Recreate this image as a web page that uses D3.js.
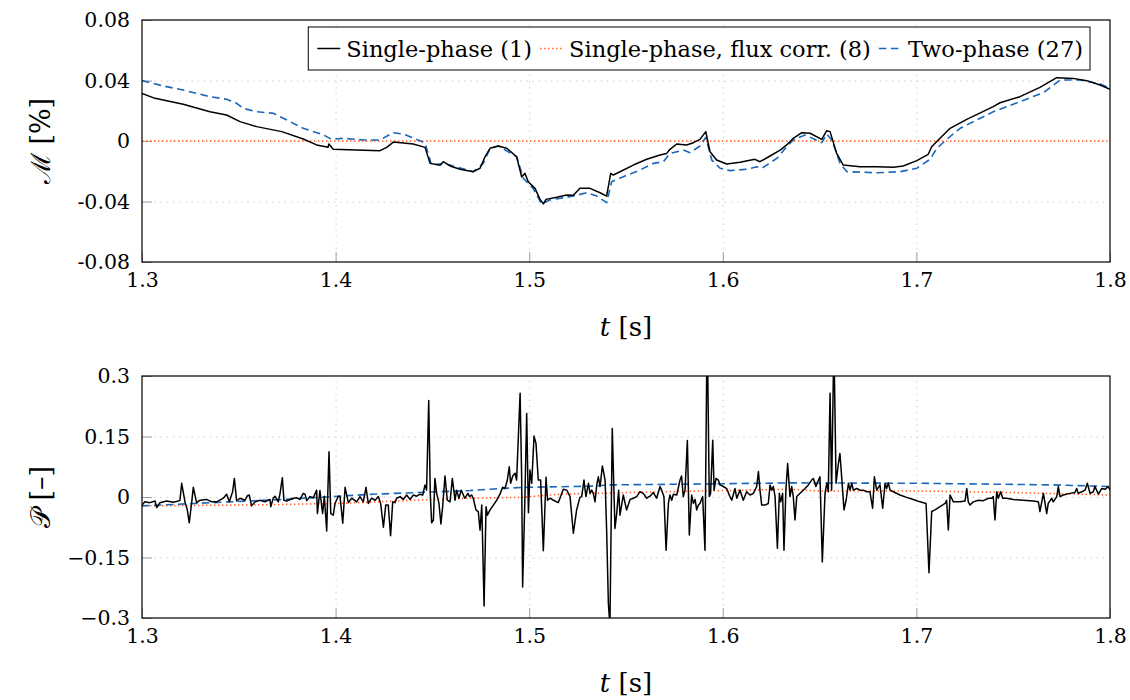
<!DOCTYPE html>
<html>
<head>
<meta charset="utf-8">
<script src="https://cdn.jsdelivr.net/npm/d3@7"></script>
<style>
  body { margin: 0; background: #fff; }
  svg text { font-family: "DejaVu Serif", "Liberation Serif", serif; fill: #000; }
</style>
</head>
<body>
<div id="chart"></div>
<script>
/* ── Data ──────────────────────────────────────────────────────────── */
const xTicks          = [1.3, 1.4, 1.5, 1.6, 1.7, 1.8];
const xTickLabels     = ['1.3', '1.4', '1.5', '1.6', '1.7', '1.8'];
const massTicks       = [-0.08, -0.04, 0, 0.04, 0.08];
const massTickLabels  = ['-0.08', '-0.04', '0', '0.04', '0.08'];
const powerTicks      = [-0.3, -0.15, 0, 0.15, 0.3];
const powerTickLabels = ['\u22120.3', '\u22120.15', '0', '0.15', '0.3'];
const seriesNames     = ['Single-phase (1)', 'Single-phase, flux corr. (8)', 'Two-phase (27)'];

// mass error [%] vs t [s]
const massSingle = [
  [1.3000,0.0315],[1.3067,0.0282],[1.3213,0.0243],[1.3351,0.0194],[1.3437,0.0172],[1.3506,0.0128],
  [1.3592,0.0095],[1.3722,0.0062],[1.3833,0.0013],[1.3902,-0.0026],[1.3961,-0.0042],[1.3965,-0.0020],
  [1.3988,-0.0055],[1.4109,-0.0060],[1.4229,-0.0064],[1.4264,-0.0042],[1.4298,-0.0007],[1.4401,-0.0020],
  [1.4462,-0.0042],[1.4488,-0.0148],[1.4540,-0.0160],[1.4556,-0.0137],[1.4591,-0.0165],[1.4643,-0.0187],
  [1.4711,-0.0203],[1.4746,-0.0180],[1.4772,-0.0104],[1.4798,-0.0048],[1.4840,-0.0033],[1.4884,-0.0048],
  [1.4935,-0.0104],[1.4961,-0.0236],[1.4978,-0.0214],[1.4995,-0.0269],[1.5030,-0.0313],[1.5056,-0.0386],
  [1.5073,-0.0416],[1.5087,-0.0386],[1.5142,-0.0372],[1.5194,-0.0357],[1.5228,-0.0359],[1.5262,-0.0313],
  [1.5314,-0.0313],[1.5366,-0.0342],[1.5400,-0.0364],[1.5421,-0.0214],[1.5434,-0.0225],[1.5469,-0.0203],
  [1.5538,-0.0159],[1.5607,-0.0121],[1.5676,-0.0093],[1.5710,-0.0082],[1.5727,-0.0055],[1.5762,-0.0020],
  [1.5813,-0.0026],[1.5848,-0.0011],[1.5882,0.0011],[1.5912,0.0062],[1.5934,-0.0071],[1.5968,-0.0126],
  [1.6020,-0.0152],[1.6089,-0.0141],[1.6166,-0.0121],[1.6192,-0.0137],[1.6244,-0.0099],[1.6296,-0.0060],
  [1.6330,-0.0026],[1.6364,0.0018],[1.6408,0.0055],[1.6451,0.0051],[1.6511,0.0011],[1.6537,0.0068],
  [1.6554,0.0062],[1.6588,-0.0082],[1.6622,-0.0159],[1.6709,-0.0170],[1.6795,-0.0170],[1.6881,-0.0174],
  [1.6932,-0.0165],[1.7002,-0.0130],[1.7061,-0.0088],[1.7079,-0.0038],[1.7122,0.0018],[1.7174,0.0084],
  [1.7260,0.0143],[1.7397,0.0227],[1.7432,0.0253],[1.7535,0.0293],[1.7638,0.0355],[1.7725,0.0419],
  [1.7810,0.0414],[1.7880,0.0399],[1.7949,0.0370],[1.8000,0.0342]
];
const massFluxCorr = [[1.3, 0], [1.8, 0]];
const massTwoPhase = [
  [1.3000,0.0399],[1.3110,0.0364],[1.3213,0.0337],[1.3351,0.0293],[1.3437,0.0276],[1.3489,0.0249],
  [1.3523,0.0216],[1.3592,0.0194],[1.3678,0.0183],[1.3730,0.0150],[1.3833,0.0084],[1.3937,0.0040],
  [1.3980,0.0011],[1.4040,0.0018],[1.4143,0.0007],[1.4229,0.0007],[1.4298,0.0055],[1.4349,0.0046],
  [1.4436,0.0002],[1.4462,-0.0015],[1.4496,-0.0159],[1.4556,-0.0148],[1.4591,-0.0159],[1.4711,-0.0203],
  [1.4763,-0.0148],[1.4798,-0.0048],[1.4840,-0.0033],[1.4935,-0.0104],[1.4970,-0.0247],[1.5020,-0.0313],
  [1.5064,-0.0416],[1.5107,-0.0390],[1.5194,-0.0372],[1.5228,-0.0364],[1.5297,-0.0342],[1.5349,-0.0364],
  [1.5400,-0.0408],[1.5426,-0.0269],[1.5486,-0.0236],[1.5572,-0.0192],[1.5641,-0.0148],[1.5693,-0.0137],
  [1.5727,-0.0082],[1.5796,-0.0060],[1.5831,-0.0077],[1.5882,-0.0033],[1.5912,0.0024],[1.5943,-0.0126],
  [1.5986,-0.0180],[1.6038,-0.0196],[1.6124,-0.0187],[1.6176,-0.0170],[1.6202,-0.0180],[1.6279,-0.0115],
  [1.6330,-0.0038],[1.6364,0.0007],[1.6425,0.0040],[1.6511,-0.0011],[1.6537,0.0046],[1.6563,0.0007],
  [1.6606,-0.0148],[1.6641,-0.0203],[1.6796,-0.0210],[1.6916,-0.0203],[1.7002,-0.0180],[1.7071,-0.0121],
  [1.7106,-0.0048],[1.7157,0.0011],[1.7226,0.0084],[1.7398,0.0194],[1.7535,0.0260],[1.7656,0.0320],
  [1.7742,0.0403],[1.7846,0.0403],[1.7949,0.0377],[1.8000,0.0348]
];

// power indicator [-] vs t [s]
const powerSingle = [
  [1.3000,-0.020],[1.3015,-0.012],[1.3041,-0.014],[1.3067,-0.010],[1.3076,-0.026],[1.3093,-0.014],
  [1.3127,-0.010],[1.3162,-0.013],[1.3188,-0.010],[1.3196,-0.008],[1.3205,0.034],[1.3222,-0.012],
  [1.3234,-0.032],[1.3244,-0.064],[1.3257,-0.012],[1.3265,0.024],[1.3282,-0.014],[1.3300,-0.008],
  [1.3334,-0.006],[1.3360,-0.012],[1.3386,-0.012],[1.3420,-0.003],[1.3437,0.007],[1.3451,-0.012],
  [1.3468,0.013],[1.3477,0.046],[1.3489,-0.010],[1.3506,-0.003],[1.3532,-0.008],[1.3544,0.003],
  [1.3554,0.005],[1.3566,-0.022],[1.3584,-0.012],[1.3610,-0.008],[1.3635,-0.012],[1.3661,-0.006],
  [1.3665,-0.024],[1.3678,-0.003],[1.3687,0.002],[1.3704,-0.012],[1.3713,0.009],[1.3725,0.048],
  [1.3733,-0.008],[1.3747,-0.010],[1.3782,-0.003],[1.3799,-0.002],[1.3816,-0.006],[1.3833,0.009],
  [1.3842,0.007],[1.3851,-0.009],[1.3868,0.001],[1.3885,-0.002],[1.3902,0.017],[1.3906,-0.041],
  [1.3919,0.016],[1.3928,-0.022],[1.3933,-0.041],[1.3942,0.002],[1.3954,-0.084],[1.3966,0.112],
  [1.3975,-0.041],[1.3988,-0.045],[1.3997,-0.016],[1.4014,0.002],[1.4023,0.001],[1.4037,-0.065],
  [1.4049,0.024],[1.4066,-0.014],[1.4083,-0.003],[1.4109,-0.012],[1.4126,0.001],[1.4143,-0.012],
  [1.4157,0.024],[1.4169,-0.016],[1.4186,-0.003],[1.4204,-0.008],[1.4221,0.001],[1.4233,-0.017],
  [1.4247,-0.075],[1.4259,-0.020],[1.4272,-0.020],[1.4284,-0.096],[1.4295,-0.012],[1.4307,-0.014],
  [1.4315,-0.003],[1.4333,0.001],[1.4350,-0.006],[1.4367,0.005],[1.4384,-0.006],[1.4402,0.005],
  [1.4419,0.002],[1.4436,0.007],[1.4450,0.005],[1.4462,0.030],[1.4470,0.017],[1.4481,0.239],
  [1.4489,0.009],[1.4496,-0.064],[1.4505,-0.057],[1.4513,0.046],[1.4522,0.009],[1.4534,-0.016],
  [1.4544,-0.067],[1.4553,-0.024],[1.4565,0.052],[1.4577,-0.008],[1.4591,-0.012],[1.4603,0.046],
  [1.4617,-0.008],[1.4625,0.017],[1.4637,-0.003],[1.4649,0.017],[1.4667,-0.003],[1.4684,0.009],
  [1.4692,0.001],[1.4703,0.005],[1.4711,-0.003],[1.4725,-0.032],[1.4737,-0.036],[1.4746,-0.082],
  [1.4755,-0.020],[1.4767,-0.270],[1.4777,-0.024],[1.4784,-0.045],[1.4798,-0.032],[1.4815,-0.020],
  [1.4832,-0.008],[1.4849,0.007],[1.4863,0.024],[1.4875,0.021],[1.4887,0.042],[1.4897,0.075],
  [1.4904,0.034],[1.4915,0.052],[1.4927,0.059],[1.4935,0.042],[1.4953,0.257],[1.4961,0.050],
  [1.4966,-0.223],[1.4978,0.001],[1.4987,0.207],[1.4996,-0.039],[1.5004,0.067],[1.5013,0.034],
  [1.5025,0.151],[1.5035,0.133],[1.5047,0.042],[1.5059,0.042],[1.5073,-0.133],[1.5087,0.049],
  [1.5095,-0.008],[1.5107,-0.003],[1.5125,-0.008],[1.5150,-0.014],[1.5159,-0.003],[1.5176,0.019],
  [1.5194,0.017],[1.5211,0.001],[1.5228,-0.090],[1.5245,-0.032],[1.5262,-0.001],[1.5271,0.001],
  [1.5283,0.042],[1.5293,0.001],[1.5306,0.034],[1.5314,0.009],[1.5323,0.017],[1.5331,0.009],
  [1.5340,-0.012],[1.5349,0.030],[1.5357,0.050],[1.5366,0.026],[1.5378,0.077],[1.5392,0.042],
  [1.5400,-0.082],[1.5409,-0.264],[1.5417,-0.320],[1.5429,0.170],[1.5443,-0.078],[1.5452,-0.041],
  [1.5462,0.017],[1.5469,-0.045],[1.5486,0.005],[1.5503,-0.032],[1.5521,-0.006],[1.5538,-0.003],
  [1.5555,0.001],[1.5572,0.013],[1.5589,0.009],[1.5607,-0.003],[1.5624,0.002],[1.5641,0.011],
  [1.5658,-0.003],[1.5676,0.026],[1.5684,0.017],[1.5696,0.001],[1.5707,-0.132],[1.5719,-0.016],
  [1.5727,0.005],[1.5736,-0.008],[1.5745,0.007],[1.5762,0.005],[1.5779,0.042],[1.5787,0.052],
  [1.5796,0.001],[1.5805,0.017],[1.5817,0.140],[1.5827,-0.094],[1.5839,0.005],[1.5848,-0.016],
  [1.5857,-0.006],[1.5865,-0.032],[1.5874,-0.020],[1.5882,-0.016],[1.5896,0.001],[1.5908,-0.132],
  [1.5917,0.320],[1.5922,0.320],[1.5930,0.001],[1.5937,0.009],[1.5948,0.141],[1.5955,0.017],
  [1.5965,0.046],[1.5977,0.042],[1.5985,0.030],[1.6003,0.026],[1.6020,0.021],[1.6037,0.001],
  [1.6046,-0.008],[1.6063,0.021],[1.6072,-0.003],[1.6089,0.017],[1.6106,-0.008],[1.6123,0.013],
  [1.6141,0.005],[1.6158,0.009],[1.6175,0.026],[1.6184,0.063],[1.6192,0.017],[1.6201,-0.020],
  [1.6218,-0.020],[1.6235,-0.016],[1.6244,0.030],[1.6253,0.017],[1.6261,0.026],[1.6270,0.001],
  [1.6282,-0.127],[1.6292,0.009],[1.6299,-0.012],[1.6309,0.009],[1.6316,-0.132],[1.6326,0.019],
  [1.6335,0.083],[1.6347,0.001],[1.6356,0.026],[1.6364,0.001],[1.6373,-0.057],[1.6382,0.001],
  [1.6390,0.005],[1.6407,0.013],[1.6425,0.021],[1.6442,0.030],[1.6459,0.042],[1.6468,0.046],
  [1.6481,0.026],[1.6494,0.042],[1.6502,0.050],[1.6514,-0.161],[1.6528,0.009],[1.6537,0.034],
  [1.6545,0.013],[1.6554,0.257],[1.6562,0.017],[1.6571,0.298],[1.6576,0.320],[1.6585,0.034],
  [1.6597,0.083],[1.6605,0.108],[1.6614,0.050],[1.6626,-0.032],[1.6637,-0.008],[1.6649,0.034],
  [1.6657,0.017],[1.6666,0.034],[1.6674,0.017],[1.6692,0.021],[1.6709,0.017],[1.6726,0.017],
  [1.6743,0.013],[1.6760,0.013],[1.6774,-0.028],[1.6783,0.050],[1.6795,0.017],[1.6812,0.030],
  [1.6826,-0.028],[1.6838,0.034],[1.6846,0.021],[1.6855,0.035],[1.6864,0.017],[1.6881,0.013],
  [1.6915,0.005],[1.6950,-0.001],[1.6984,-0.006],[1.7019,-0.012],[1.7050,-0.016],[1.7065,-0.188],
  [1.7079,-0.036],[1.7096,-0.032],[1.7122,-0.024],[1.7148,-0.016],[1.7156,-0.008],[1.7165,-0.082],
  [1.7174,0.005],[1.7191,-0.012],[1.7225,-0.012],[1.7251,-0.010],[1.7260,0.021],[1.7268,-0.012],
  [1.7277,-0.020],[1.7294,-0.012],[1.7320,-0.008],[1.7346,-0.009],[1.7372,-0.003],[1.7389,-0.003],
  [1.7397,0.001],[1.7406,-0.057],[1.7415,0.013],[1.7423,-0.003],[1.7435,0.013],[1.7446,-0.003],
  [1.7466,-0.003],[1.7501,-0.006],[1.7552,-0.008],[1.7604,-0.010],[1.7630,-0.012],[1.7638,-0.036],
  [1.7656,0.009],[1.7673,-0.041],[1.7681,-0.016],[1.7699,-0.003],[1.7707,-0.012],[1.7725,0.001],
  [1.7733,0.026],[1.7742,0.001],[1.7759,0.005],[1.7793,0.009],[1.7819,0.011],[1.7828,0.021],
  [1.7836,0.009],[1.7854,0.013],[1.7871,0.017],[1.7883,0.034],[1.7897,0.009],[1.7914,0.013],
  [1.7922,0.026],[1.7940,0.007],[1.7957,0.021],[1.7974,0.019],[1.7991,0.026],[1.8000,0.017]
];
const powerFluxCorr = [
  [1.3000,-0.022],[1.3506,-0.020],[1.4023,-0.016],[1.4400,-0.008],[1.4695,-0.003],[1.4952,-0.001],
  [1.5159,0.007],[1.5676,0.013],[1.6347,0.019],[1.6500,0.015],[1.7000,0.015],[1.7500,0.011],[1.8000,0.005]
];
const powerTwoPhase = [
  [1.3000,-0.022],[1.3730,-0.006],[1.4195,0.007],[1.4695,0.016],[1.4849,0.021],[1.4987,0.024],
  [1.5331,0.027],[1.5417,0.030],[1.5848,0.032],[1.6347,0.035],[1.7019,0.034],[1.7707,0.030],[1.8000,0.026]
];

/* ── Layout & styles ───────────────────────────────────────────────── */
const W = 1130, H = 700;
const PLOT_L = 142, PLOT_R = 1110;
const FONT = '"DejaVu Serif", "Liberation Serif", serif';
const FONT_TICK = 20.5, FONT_TITLE = 26, FONT_LEGEND = 22.5;

const STYLES = [
  { color: '#000000', width: 1.5, dash: null },
  { color: '#ff5a1f', width: 1.5, dash: '1.4,2.6' },
  { color: '#1a66b8', width: 1.6, dash: '7.5,4.5' }
];

const svg = d3.select('#chart').append('svg')
  .attr('width', W).attr('height', H)
  .attr('viewBox', `0 0 ${W} ${H}`);

const x = d3.scaleLinear().domain([1.3, 1.8]).range([PLOT_L, PLOT_R]);

drawPanel({
  id: 'mass', top: 20, bottom: 262,
  domain: [-0.08, 0.08], ticks: massTicks, labels: massTickLabels,
  series: [massSingle, massFluxCorr, massTwoPhase],
  yTitle: '\u2133 [%]', legend: true
});

drawPanel({
  id: 'power', top: 376, bottom: 618,
  domain: [-0.3, 0.3], ticks: powerTicks, labels: powerTickLabels,
  series: [powerSingle, powerFluxCorr, powerTwoPhase],
  yTitle: '\uD835\uDCAB [\u2013]', legend: false
});

function drawPanel(p) {
  const g = svg.append('g');
  const y = d3.scaleLinear().domain(p.domain).range([p.bottom, p.top]);
  const h = p.bottom - p.top;
  const w = PLOT_R - PLOT_L;

  /* ── Grid ─────────────────────────────────────────────────────────── */
  const innerX = xTicks.slice(1, -1);
  const innerY = p.ticks.slice(1, -1);

  g.append('g')
    .attr('transform', `translate(${PLOT_L},0)`)
    .call(d3.axisLeft(y).tickValues(innerY).tickSize(-w).tickFormat(''))
    .call(sel => sel.select('.domain').remove())
    .call(sel => sel.selectAll('line').attr('stroke', '#c4c4c4')
      .attr('stroke-width', 1).attr('stroke-dasharray', '1.2,5'));

  g.append('g')
    .attr('transform', `translate(0,${p.bottom})`)
    .call(d3.axisBottom(x).tickValues(innerX).tickSize(-h).tickFormat(''))
    .call(sel => sel.select('.domain').remove())
    .call(sel => sel.selectAll('line').attr('stroke', '#c4c4c4')
      .attr('stroke-width', 1).attr('stroke-dasharray', '1.2,5'));

  /* ── Axes (inward gray ticks) ─────────────────────────────────────── */
  g.append('g')
    .attr('transform', `translate(${PLOT_L},0)`)
    .call(d3.axisLeft(y).tickValues(p.ticks).tickSize(-10).tickPadding(12)
      .tickFormat((d, i) => p.labels[i]))
    .call(_styleAxis);

  g.append('g')
    .attr('transform', `translate(0,${p.bottom})`)
    .call(d3.axisBottom(x).tickValues(xTicks).tickSize(-10).tickPadding(10)
      .tickFormat((d, i) => xTickLabels[i]))
    .call(_styleAxis);

  /* ── Lines ────────────────────────────────────────────────────────── */
  const clipId = `clip-${p.id}`;
  svg.append('defs').append('clipPath').attr('id', clipId)
    .append('rect')
    .attr('x', PLOT_L).attr('y', p.top).attr('width', w).attr('height', h);

  const line = d3.line().x(d => x(d[0])).y(d => y(d[1]));
  const lines = g.append('g').attr('clip-path', `url(#${clipId})`);

  // flux-corrected series first, then the others on top
  [1, 2, 0].forEach(k => {
    const s = STYLES[k];
    lines.append('path').datum(p.series[k])
      .attr('d', line)
      .attr('fill', 'none')
      .attr('stroke', s.color)
      .attr('stroke-width', s.width)
      .attr('stroke-linejoin', 'round')
      .attr('stroke-dasharray', s.dash);
  });

  /* ── Frame ────────────────────────────────────────────────────────── */
  g.append('rect')
    .attr('x', PLOT_L).attr('y', p.top).attr('width', w).attr('height', h)
    .attr('fill', 'none').attr('stroke', '#000').attr('stroke-width', 1.2);

  /* ── Titles ───────────────────────────────────────────────────────── */
  g.append('text')
    .attr('x', (PLOT_L + PLOT_R) / 2).attr('y', p.bottom + 74)
    .attr('text-anchor', 'middle').attr('font-size', FONT_TITLE)
    .call(t => {
      t.append('tspan').attr('font-style', 'italic').text('t');
      t.append('tspan').text(' [s]');
    });

  g.append('text')
    .attr('transform', `translate(50,${(p.top + p.bottom) / 2}) rotate(-90)`)
    .attr('text-anchor', 'middle').attr('font-size', FONT_TITLE + 1)
    .text(p.yTitle);

  if (p.legend) _drawLegend(g, p.top);
}

/**
 * Legend box in the top-right corner of the upper panel.
 */
function _drawLegend(g, top) {
  const lg = g.append('g');
  const box = lg.append('rect');
  const sampleW = 23, padL = 9, padR = 7, gap = 8;
  let cx = 0;
  seriesNames.forEach((name, k) => {
    const s = STYLES[k];
    lg.append('line')
      .attr('x1', cx).attr('x2', cx + sampleW).attr('y1', 0).attr('y2', 0)
      .attr('stroke', s.color).attr('stroke-width', s.width)
      .attr('stroke-dasharray', s.dash);
    const t = lg.append('text')
      .attr('x', cx + sampleW + 6).attr('y', 0).attr('dy', '0.36em')
      .attr('font-size', FONT_LEGEND).text(name);
    cx += sampleW + 6 + t.node().getComputedTextLength() + gap;
  });
  cx -= gap;
  const boxW = cx + padL + padR, boxH = 43;
  const bx = 1090 - boxW, by = top + 7;
  box.attr('x', -padL).attr('y', -boxH / 2).attr('width', boxW).attr('height', boxH)
    .attr('fill', '#fff').attr('stroke', '#000').attr('stroke-width', 1);
  lg.attr('transform', `translate(${bx + padL},${by + boxH / 2})`);
}

/**
 * Gray inward ticks, no domain line (the frame replaces it).
 */
function _styleAxis(sel) {
  sel.attr('font-family', FONT);
  sel.select('.domain').remove();
  sel.selectAll('line').attr('stroke', '#a0a0a0').attr('stroke-width', 1);
  sel.selectAll('text')
    .attr('fill', '#000')
    .attr('font-size', FONT_TICK);
}
</script>
</body>
</html>
